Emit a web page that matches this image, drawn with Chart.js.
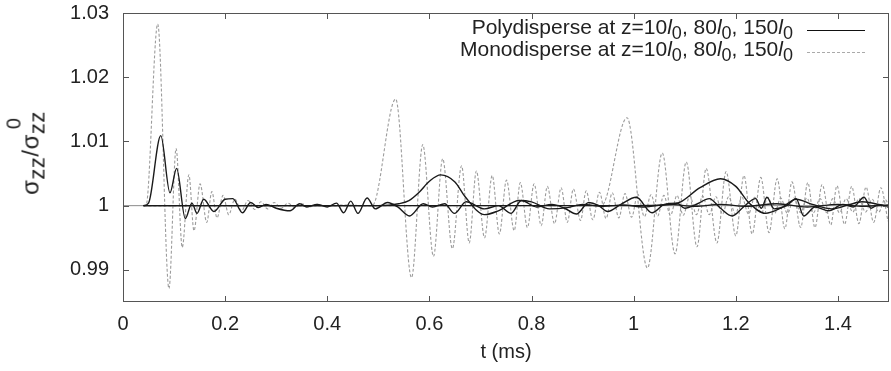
<!DOCTYPE html>
<html>
<head>
<meta charset="utf-8">
<script src="https://cdn.jsdelivr.net/npm/chart.js@4.4.0/dist/chart.umd.min.js"></script>
<style>
  body { margin: 0; background: #fff; }
  #wrap { position: relative; width: 891px; height: 371px; font-family: 'Liberation Sans', Arial, sans-serif; color: #222; }
  #ytitle { position: absolute; left: 31px; top: 153px; transform: translate(-50%, -50%) rotate(-90deg); font-size: 24px; white-space: nowrap; line-height: 24px; letter-spacing: 0.5px; }
  #ytitle .lo { position: relative; top: 6px; font-size: 22px; }
  #ytitle .stk { position: relative; display: inline-block; }
  #ytitle .hi { position: absolute; left: 5px; top: -17px; font-size: 20px; }
  #legend { position: absolute; right: 98px; top: 16px; font-size: 21px; line-height: 22px; text-align: right; white-space: nowrap; }
  #legend sub { font-size: 18px; vertical-align: -5px; line-height: 0; }
  .sample { position: absolute; left: 807px; width: 58px; height: 0; }
</style>
</head>
<body>
<div id="wrap">
  <canvas id="c" width="891" height="371"></canvas>
  <div id="ytitle">σ<span class="lo">zz</span>/σ<span class="stk"><span class="lo">zz</span><span class="hi">0</span></span></div>
  <div id="legend">Polydisperse at z=10<i>l</i><sub>0</sub>, 80<i>l</i><sub>0</sub>, 150<i>l</i><sub>0</sub><br>Monodisperse at z=10<i>l</i><sub>0</sub>, 80<i>l</i><sub>0</sub>, 150<i>l</i><sub>0</sub></div>
  <div class="sample" style="top:30px;border-top:1.5px solid #111"></div>
  <div class="sample" style="top:52px;border-top:1px dashed #aaa"></div>
</div>
<script>
// axis ticks
const xTicks = [0, 0.2, 0.4, 0.6, 0.8, 1, 1.2, 1.4];
const xTickLabels = ['0', '0.2', '0.4', '0.6', '0.8', '1', '1.2', '1.4'];
const yTicks = [0.99, 1, 1.01, 1.02, 1.03];
const yTickLabels = ['0.99', '1', '1.01', '1.02', '1.03'];

// [t (ms), sigma_zz / sigma_zz0]
const poly10 = [
  [0.040, 1.0], [0.050, 1.0004], [0.074, 1.0109], [0.092, 1.0020], [0.105, 1.0058], [0.122, 0.9980],
  [0.135, 1.0004], [0.145, 0.9988], [0.158, 1.0010], [0.178, 0.9991], [0.200, 1.0010], [0.215, 1.0011],
  [0.234, 0.9989], [0.250, 1.0005], [0.265, 0.9997], [0.280, 1.0002], [0.300, 0.9996], [0.327, 0.9992],
  [0.346, 1.0003], [0.360, 0.9998], [0.380, 1.0002], [0.400, 0.9998], [0.418, 1.0004], [0.432, 0.9989],
  [0.446, 1.0007], [0.460, 0.9988], [0.478, 1.0012], [0.494, 0.9995], [0.518, 1.0005], [0.538, 0.9998],
  [0.561, 0.9984], [0.588, 1.0003], [0.606, 0.9998], [0.630, 1.0003], [0.649, 0.9988], [0.672, 1.0006],
  [0.708, 0.9995], [0.735, 1.0000], [0.760, 0.9988], [0.780, 1.0008], [0.810, 0.9998], [0.840, 1.0002],
  [0.865, 0.9996], [0.888, 0.9987], [0.912, 1.0005], [0.930, 1.0001], [0.949, 0.9991], [0.975, 1.0002],
  [1.005, 1.0013], [1.036, 0.9989], [1.060, 1.0002], [1.085, 1.0004], [1.100, 0.9996], [1.125, 1.0003],
  [1.148, 1.0011], [1.170, 0.9996], [1.193, 0.9984], [1.215, 0.9998], [1.239, 1.0011], [1.250, 0.9996],
  [1.261, 1.0013], [1.275, 0.9995], [1.300, 1.0000], [1.318, 1.0011], [1.333, 0.9984], [1.355, 0.9998],
  [1.382, 0.9992], [1.410, 1.0002], [1.430, 0.9998], [1.451, 1.0013], [1.465, 0.9996], [1.480, 1.0002],
  [1.500, 0.9998]
];
const poly80 = [
  [0.040, 1.0], [0.500, 1.0], [0.540, 1.0003], [0.560, 1.0008], [0.580, 1.0021], [0.600, 1.0038],
  [0.622, 1.0048], [0.650, 1.0037], [0.670, 1.0014], [0.708, 0.9986], [0.735, 0.9992], [0.776, 1.0008],
  [0.800, 1.0006], [0.835, 0.9995], [0.870, 0.9997], [0.900, 1.0002], [0.940, 0.9999], [0.980, 1.0001],
  [1.020, 0.9998], [1.070, 1.0002], [1.120, 0.9999], [1.170, 1.0002], [1.220, 0.9999], [1.280, 1.0003],
  [1.340, 0.9998], [1.400, 1.0002], [1.450, 0.9999], [1.500, 1.0001]
];
const poly150 = [
  [0.040, 1.0], [1.000, 1.0], [1.060, 1.0001], [1.090, 1.0005], [1.130, 1.0028], [1.170, 1.0042],
  [1.200, 1.0030], [1.226, 1.0004], [1.258, 0.9988], [1.290, 0.9997], [1.318, 1.0010], [1.350, 1.0002],
  [1.388, 0.9995], [1.420, 1.0001], [1.447, 1.0006], [1.500, 0.9998]
];
const mono10 = [
  [0.040, 1.0], [0.045, 1.0], [0.068, 1.0283], [0.090, 0.9871], [0.104, 1.0089], [0.116, 0.9935],
  [0.129, 1.0048], [0.139, 0.9961], [0.151, 1.0034], [0.164, 0.9974], [0.174, 1.0022], [0.184, 0.9981],
  [0.196, 1.0016], [0.207, 0.9986], [0.219, 1.0010], [0.232, 0.9992], [0.245, 1.0008], [0.258, 0.9994],
  [0.270, 1.0006], [0.283, 0.9995], [0.296, 1.0005], [0.310, 0.9996], [0.323, 1.0004], [0.337, 0.9997],
  [0.350, 1.0003], [0.365, 0.9998], [0.380, 1.0002], [0.400, 0.9999], [0.430, 1.0001], [0.470, 1.0]
];
const mono80 = [
  [0.040, 1.0], [0.488, 1.0], [0.534, 1.0166], [0.565, 0.9888], [0.587, 1.0095], [0.608, 0.9921],
  [0.626, 1.0073], [0.645, 0.9933], [0.663, 1.0062], [0.678, 0.9942], [0.692, 1.0054], [0.708, 0.9950],
  [0.723, 1.0047], [0.737, 0.9956], [0.751, 1.0040], [0.766, 0.9961], [0.778, 1.0036], [0.792, 0.9966],
  [0.805, 1.0034], [0.819, 0.9969], [0.831, 1.0030], [0.845, 0.9972], [0.858, 1.0028], [0.870, 0.9974],
  [0.882, 1.0026], [0.896, 0.9977], [0.907, 1.0023], [0.920, 0.9978], [0.933, 1.0021], [0.946, 0.9980],
  [0.958, 1.0020], [0.971, 0.9981], [0.983, 1.0019], [0.996, 0.9982], [1.008, 1.0018], [1.021, 0.9983],
  [1.034, 1.0017], [1.047, 0.9984], [1.059, 1.0016], [1.072, 0.9985], [1.085, 1.0016], [1.097, 0.9985],
  [1.110, 1.0015], [1.123, 0.9986], [1.135, 1.0015], [1.148, 0.9986], [1.161, 1.0014], [1.174, 0.9987],
  [1.186, 1.0014], [1.199, 0.9987], [1.212, 1.0013], [1.225, 0.9987], [1.237, 1.0013], [1.250, 0.9988],
  [1.263, 1.0013], [1.276, 0.9988], [1.288, 1.0012], [1.301, 0.9988], [1.314, 1.0012], [1.327, 0.9989],
  [1.339, 1.0012], [1.352, 0.9989], [1.365, 1.0011], [1.378, 0.9989], [1.390, 1.0011], [1.403, 0.9989],
  [1.416, 1.0011], [1.429, 0.9990], [1.441, 1.0011], [1.454, 0.9990], [1.467, 1.0010], [1.480, 0.9990],
  [1.492, 1.0010], [1.500, 1.0]
];
const mono150 = [
  [0.040, 1.0], [0.937, 1.0], [0.987, 1.0137], [1.027, 0.9903], [1.056, 1.0082], [1.081, 0.9925],
  [1.103, 1.0068], [1.124, 0.9936], [1.142, 1.0058], [1.163, 0.9942], [1.181, 1.0053], [1.200, 0.9953],
  [1.216, 1.0047], [1.232, 0.9956], [1.249, 1.0044], [1.265, 0.9958], [1.281, 1.0042], [1.296, 0.9964],
  [1.310, 1.0037], [1.327, 0.9966], [1.341, 1.0036], [1.355, 0.9966], [1.369, 1.0033], [1.386, 0.9970],
  [1.398, 1.0031], [1.413, 0.9971], [1.427, 1.0030], [1.441, 0.9972], [1.455, 1.0029], [1.470, 0.9974],
  [1.484, 1.0028], [1.498, 0.9976]
];
const refLine = [[0, 1], [1.5, 1]];

const FONT = "'Liberation Sans', Arial, sans-serif";

function pts(arr) {
  return arr.map(p => ({ x: p[0], y: p[1] }));
}

function solid(arr) {
  return { data: pts(arr), borderColor: '#1a1a1a', borderWidth: 1.4, cubicInterpolationMode: 'monotone' };
}

function dashed(arr) {
  return { data: pts(arr), borderColor: '#9c9c9c', borderWidth: 1.1, borderDash: [3, 2], cubicInterpolationMode: 'monotone' };
}

// gnuplot-like border with inward ticks on all four sides
const frame = {
  id: 'frame',
  afterDraw(chart) {
    const { ctx, chartArea: a, scales } = chart;
    ctx.save();
    ctx.strokeStyle = '#555';
    ctx.lineWidth = 1;
    ctx.strokeRect(a.left + 0.5, a.top + 0.5, a.right - a.left - 1, a.bottom - a.top - 1);
    ctx.beginPath();
    xTicks.forEach(v => {
      const px = Math.round(scales.x.getPixelForValue(v)) + 0.5;
      ctx.moveTo(px, a.bottom); ctx.lineTo(px, a.bottom - 6);
      ctx.moveTo(px, a.top); ctx.lineTo(px, a.top + 6);
    });
    yTicks.forEach(v => {
      const py = Math.round(scales.y.getPixelForValue(v)) + 0.5;
      ctx.moveTo(a.left, py); ctx.lineTo(a.left + 6, py);
      ctx.moveTo(a.right, py); ctx.lineTo(a.right - 6, py);
    });
    ctx.stroke();
    ctx.restore();
  }
};

const ctx = document.getElementById('c');
new Chart(ctx, {
  type: 'line',
  data: {
    datasets: [
      solid(poly10), solid(poly80), solid(poly150),
      dashed(mono10), dashed(mono80), dashed(mono150),
      { data: pts(refLine), borderColor: '#8a8a8a', borderWidth: 1 }
    ]
  },
  options: {
    responsive: false,
    animation: false,
    events: [],
    layout: { padding: { top: 13, right: 2, left: 0, bottom: 0 } },
    elements: { point: { radius: 0 } },
    plugins: { legend: { display: false }, tooltip: { enabled: false } },
    scales: {
      x: {
        type: 'linear',
        min: 0,
        max: 1.5,
        afterBuildTicks: s => { s.ticks = xTicks.map(v => ({ value: v })); },
        afterFit: s => { s.height = 69; s.paddingLeft = 0; s.paddingRight = 0; },
        grid: { display: false, drawTicks: false },
        border: { display: false },
        ticks: {
          autoSkip: false, maxRotation: 0, padding: 10, color: '#222',
          font: { family: FONT, size: 20 },
          callback: (v, i) => xTickLabels[i]
        },
        title: {
          display: true, text: 't (ms)', color: '#222',
          font: { family: FONT, size: 20 },
          padding: { top: 0, bottom: 7 }
        }
      },
      y: {
        type: 'linear',
        min: 0.985,
        max: 1.03,
        afterBuildTicks: s => { s.ticks = yTicks.map(v => ({ value: v })); },
        afterFit: s => { s.width = 123; s.paddingTop = 0; s.paddingBottom = 0; },
        grid: { display: false, drawTicks: false },
        border: { display: false },
        ticks: {
          autoSkip: false, padding: 14, color: '#222',
          font: { family: FONT, size: 20 },
          callback: (v, i) => yTickLabels[i]
        }
      }
    }
  },
  plugins: [frame]
});
</script>
</body>
</html>
